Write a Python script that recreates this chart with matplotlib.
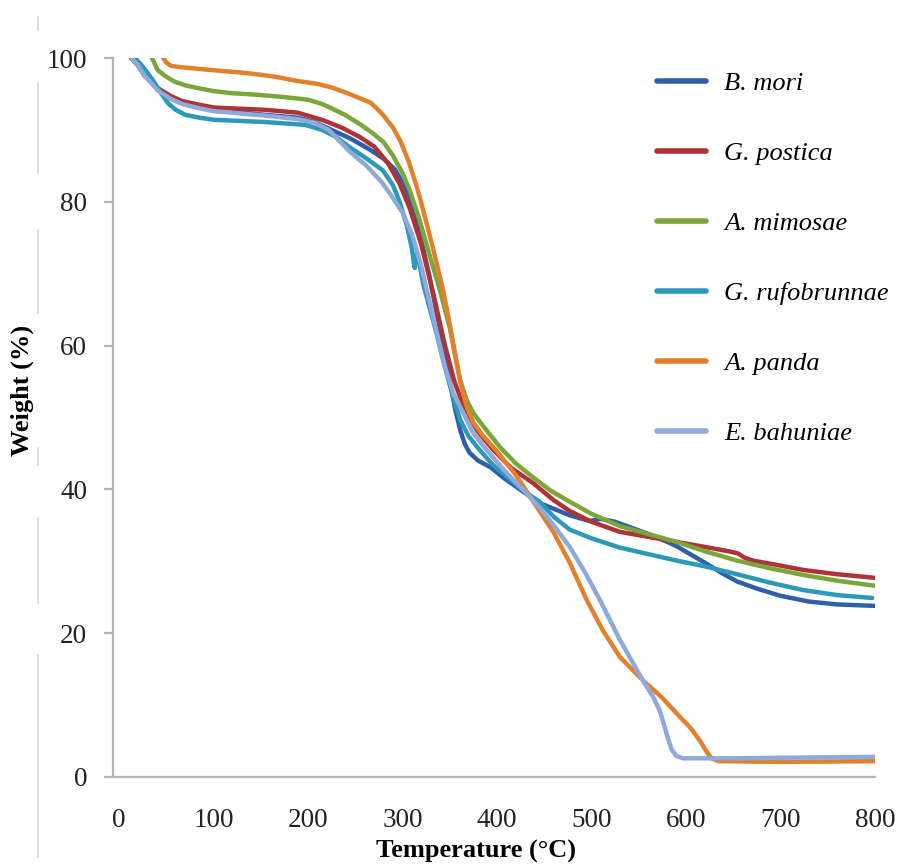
import matplotlib
matplotlib.use('Agg')
import matplotlib.pyplot as plt
from matplotlib.lines import Line2D

plt.rcParams['font.family'] = ['Liberation Serif', 'DejaVu Serif']

# TGA curves: temperature (C) vs remaining weight (%)
names = ['B. mori', 'G. postica', 'A. mimosae', 'G. rufobrunnae', 'A. panda', 'E. bahuniae']
colors = ['#2F5FA8', '#AE3236', '#7AA63A', '#2C9AB7', '#E3802C', '#8EA9DA']

mori_t = [13, 20, 27.5, 41, 55, 67, 85, 101, 154, 189, 207, 225, 245, 265, 280, 292, 303, 315, 328, 340,
          350, 356, 361, 366, 371, 380, 393, 407, 421, 445, 477, 498, 510, 525, 550, 570, 590, 620, 640,
          654, 675, 700, 730, 760, 800]
mori_w = [100, 99, 97.5, 95.8, 94.5, 93.7, 93.2, 92.8, 92.1, 91.7, 91.1, 90.0, 88.8, 87.3, 86, 84.5, 82, 77.5, 70, 62,
          55.2, 51, 48.3, 46.3, 45.1, 44, 43.1, 41.6, 40.3, 38.1, 36.4, 35.6, 35.9, 35.5, 34.3, 33.3, 32.1, 29.8, 28.2,
          27.2, 26.2, 25.2, 24.4, 24.0, 23.8]

postica_t = [13, 20, 27.5, 41, 55, 67, 85, 101, 154, 189, 215, 236, 255, 270, 285, 297, 308, 320, 333, 345,
             355, 362, 368, 380, 396, 415, 438, 460, 477, 500, 530, 560, 590, 620, 645, 655, 662, 671, 700,
             724, 760, 800]
postica_w = [100, 99, 97.5, 95.8, 94.7, 94.0, 93.5, 93.1, 92.8, 92.4, 91.4, 90.3, 89, 87.7, 85.3, 82.5, 79, 74, 67, 60,
             55, 52.5, 50.6, 48, 45.5, 43, 40.9, 38.5, 37, 35.5, 34.1, 33.4, 32.7, 32, 31.4, 31.1, 30.5, 30.1, 29.4,
             28.8, 28.2, 27.7]

mimosae_t = [35, 41, 50, 59, 70, 84, 100, 120, 145, 172, 200, 215, 225, 239, 255, 268, 280, 290, 300, 308,
             318, 330, 340, 350, 361, 368, 375, 389, 403, 420, 438, 456, 474, 500, 530, 560, 590, 620, 654,
             690, 724, 760, 800]
mimosae_w = [100, 98.3, 97.4, 96.7, 96.2, 95.8, 95.4, 95.1, 94.9, 94.6, 94.2, 93.6, 93.0, 92.1, 90.8, 89.6, 88.3, 86.4,
             84, 81.5, 77.5, 72, 67.5, 62.5, 55.2, 52.4, 50.6, 48.2, 45.9, 43.6, 41.7, 39.9, 38.5, 36.6, 34.9, 33.8,
             32.7, 31.4, 30.1, 29.0, 28.1, 27.3, 26.6]

rufo_t = [17, 24, 31, 38, 45, 52, 60, 70, 85, 101, 154, 197, 215, 230, 244, 260, 279, 290, 297, 305, 310,
          312, 313, 314, 316, 322, 333, 343, 350, 361, 370, 379, 395, 411, 430, 445, 460, 477, 500, 530, 560,
          590, 620, 654, 690, 724, 760, 797]
rufo_w = [100, 99, 97.8, 96.5, 95, 93.7, 92.8, 92.1, 91.7, 91.4, 91.1, 90.7, 90.0, 89, 87.6, 86.2, 84.4, 82.3, 80,
          76.5, 73.5, 71.5, 70.8, 72.5, 72.8, 68.5, 63.2, 58, 54.5, 49.7, 47.4, 45.9, 43.5, 41.7, 39.6, 38.3, 36.2,
          34.4, 33.2, 31.9, 31.0, 30.1, 29.3, 28.2, 27.0, 26.0, 25.3, 24.9]

panda_t = [47, 50, 55, 67, 100, 136, 165, 189, 210, 225, 240, 255, 266, 272, 280, 290, 298, 306, 313, 319,
           332, 343, 350, 356, 362, 368, 375, 385, 400, 420, 442, 460, 477, 495, 512, 530, 554, 575, 594, 605,
           615, 622, 627, 635, 700, 800]
panda_w = [100, 99.4, 98.9, 98.7, 98.3, 97.9, 97.4, 96.8, 96.4, 95.9, 95.2, 94.4, 93.8, 93.1, 92, 90.3, 88.4, 85.8,
           83, 80.3, 73.7, 67.7, 63, 58.5, 54.5, 51.5, 49.3, 47.5, 45.3, 42, 37.6, 34, 29.8, 24.6, 20.4, 16.7, 13.5,
           11, 8.3, 6.8, 5, 3.5, 2.6, 2.2, 2.1, 2.2]

bahun_t = [13, 20, 27.5, 41, 55, 67, 85, 101, 154, 189, 207, 222, 244, 262, 279, 290, 300, 310, 320, 335,
           345, 354, 361, 375, 389, 408, 428, 445, 460, 477, 493, 509, 530, 554, 565, 572, 577, 581, 585, 590,
           597, 650, 720, 800]
bahun_w = [100, 99, 97.5, 95.5, 94.3, 93.6, 93.0, 92.6, 92, 91.5, 91, 90, 87, 85, 82.6, 80.5, 78.5, 75.5, 71, 62.5,
           57, 53.3, 51.5, 47.8, 45.5, 42.6, 39.9, 37.5, 35, 32.0, 28.5, 24.6, 19.1, 13.5, 11.2, 9.3, 7.2, 5.3, 3.8,
           2.9, 2.6, 2.6, 2.7, 2.8]

temps = [mori_t, postica_t, mimosae_t, rufo_t, panda_t, bahun_t]
weights = [mori_w, postica_w, mimosae_w, rufo_w, panda_w, bahun_w]

W, H = 909, 864
fig = plt.figure(figsize=(W / 100, H / 100), dpi=100)
ax = fig.add_axes([113 / W, 1 - 777 / H, 762 / W, 719 / H])

for t, w, c, n in zip(temps, weights, colors, names):
    ax.plot(t, w, color=c, lw=3.2, label=n, solid_capstyle='round', solid_joinstyle='round')

ax.set_xlim(-6.3, 800)
ax.set_ylim(0, 100)
ax.set_xticks(range(0, 801, 100))
ax.set_yticks(range(0, 101, 20))

for s in ['top', 'right']:
    ax.spines[s].set_visible(False)
for s in ['left', 'bottom']:
    ax.spines[s].set_color('#B4B4B4')
    ax.spines[s].set_linewidth(1.6)
ax.tick_params(axis='y', length=6.5, width=1.6, color='#B4B4B4', pad=12,
               labelsize=19.5, labelcolor='#222222')
ax.tick_params(axis='x', length=0, pad=22, labelsize=19.5, labelcolor='#222222')

ax.set_xlabel('Temperature (\u00b0C)', fontsize=19, fontweight='bold')
ax.xaxis.set_label_coords(0.476, -0.088)
ax.set_ylabel('Weight (%)', fontsize=19, fontweight='bold')
ax.yaxis.set_label_coords(-0.104, 0.537)

leg = ax.legend(loc='upper left', bbox_to_anchor=(657 / W, 1 - 72 / H), bbox_transform=fig.transFigure,
                frameon=False, prop={'style': 'italic', 'size': 19}, handlelength=1.85,
                handletextpad=0.7, labelspacing=1.76, borderaxespad=0, borderpad=0)
for line in leg.get_lines():
    line.set_linewidth(4)

# faint page rule on the left edge
for y0, y1 in [(17, 30), (83, 173), (230, 313), (448, 465), (518, 603), (655, 857)]:
    fig.add_artist(Line2D([38 / W, 38 / W], [1 - y0 / H, 1 - y1 / H], transform=fig.transFigure,
                          color='#D6D6D6', lw=1.2))

fig.savefig('out.png', dpi=100)
